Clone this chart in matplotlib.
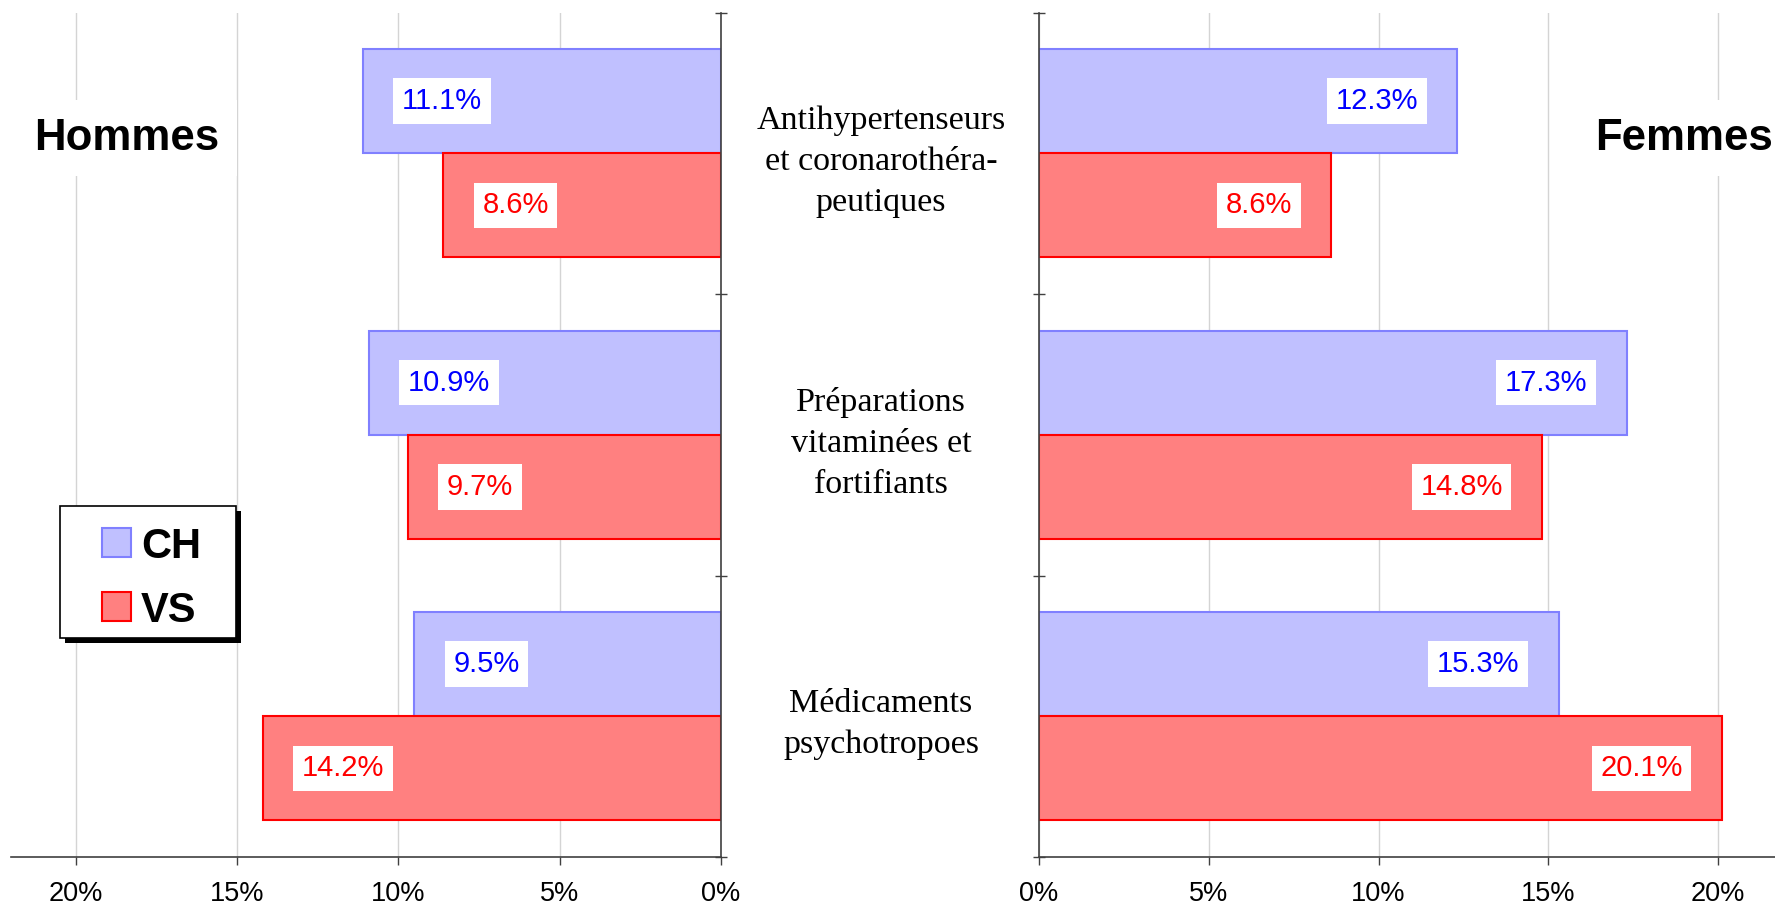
import numpy as np
import matplotlib
matplotlib.use('Agg')
import matplotlib.pyplot as plt
from matplotlib.ticker import FuncFormatter, FixedLocator
from matplotlib.patches import Rectangle

# ---- data ----
categories = ['Antihypertenseurs\net coronarothéra-\npeutiques',
              'Préparations\nvitaminées et\nfortifiants',
              'Médicaments\npsychotropoes']
hommes_ch = [11.1, 10.9, 9.5]
hommes_vs = [8.6, 9.7, 14.2]
femmes_ch = [12.3, 17.3, 15.3]
femmes_vs = [8.6, 14.8, 20.1]
xticks = [0, 5, 10, 15, 20]
series_names = ['CH', 'VS']

# ---- styles ----
ch_face, ch_edge, ch_text = '#C0C0FF', '#8080FF', '#0000FF'
vs_face, vs_edge, vs_text = '#FF8080', '#FF0000', '#FF0000'
grid_col = '#d4d4d4'
spine_col = '#404040'
sans = ['Liberation Sans', 'DejaVu Sans']
serif = ['Liberation Serif', 'DejaVu Serif']

W, H = 1775, 910
fig = plt.figure(figsize=(W / 100, H / 100), dpi=100)

def frac(x0, y0, x1, y1):
    # pixel box (top-left origin) -> figure fraction rect
    return [x0 / W, 1 - y1 / H, (x1 - x0) / W, (y1 - y0) / H]

ax_l = fig.add_axes(frac(11, 12.5, 721, 857))
ax_r = fig.add_axes(frac(1039, 12.5, 1039 + 22 * 33.96, 857))

y = np.arange(len(categories))
bh = 0.37
pct = FuncFormatter(lambda v, p: f'{v:.0f}%')

def setup(ax, side):
    ax.set_ylim(2.5, -0.5)
    ax.set_axisbelow(True)
    ax.xaxis.set_major_locator(FixedLocator(xticks))
    ax.xaxis.set_major_formatter(pct)
    ax.grid(axis='x', color=grid_col, lw=1)
    for s in ['top', 'left', 'right']:
        ax.spines[s].set_visible(False)
    keep = 'right' if side == 'left' else 'left'
    for s in ['bottom', keep]:
        ax.spines[s].set_visible(True)
        ax.spines[s].set_color(spine_col)
        ax.spines[s].set_linewidth(1.2)
    ax.tick_params(axis='x', direction='out', length=6, width=1, color=spine_col,
                   pad=11, labelsize=19.5)
    for lab in ax.get_xticklabels():
        lab.set_family(sans)
    ax.yaxis.set_minor_locator(FixedLocator([-0.5, 0.5, 1.5, 2.5]))
    ax.set_yticks([])
    ax.tick_params(axis='y', which='minor', direction='inout', length=9,
                   width=1, color=spine_col)
    if side == 'left':
        ax.yaxis.tick_right()
        ax.set_xlim(22, 0)
    else:
        ax.yaxis.tick_left()
        ax.set_xlim(0, 22)


setup(ax_l, 'left')
setup(ax_r, 'right')

ax_l.barh(y - bh / 2, hommes_ch, height=bh, color=ch_face, edgecolor=ch_edge, lw=1.5)
ax_l.barh(y + bh / 2, hommes_vs, height=bh, color=vs_face, edgecolor=vs_edge, lw=1.5)
ax_r.barh(y - bh / 2, femmes_ch, height=bh, color=ch_face, edgecolor=ch_edge, lw=1.5)
ax_r.barh(y + bh / 2, femmes_vs, height=bh, color=vs_face, edgecolor=vs_edge, lw=1.5)

# value labels: white boxes inside the bar ends
box = dict(boxstyle='square,pad=0.3', fc='white', ec='none')
def labels(ax, vals, off, col, ha):
    for yi, v in zip(y + off, vals):
        ax.annotate(f'{v:.1f}%', (v, yi), xytext=(28 if ha == 'left' else -28, 0),
                    textcoords='offset points', ha=ha, va='center', fontsize=21,
                    color=col, family=sans, bbox=box)

labels(ax_l, hommes_ch, -bh / 2, ch_text, 'left')
labels(ax_l, hommes_vs, bh / 2, vs_text, 'left')
labels(ax_r, femmes_ch, -bh / 2, ch_text, 'right')
labels(ax_r, femmes_vs, bh / 2, vs_text, 'right')

# category names between the two panels
for yi, name in zip(y, categories):
    ax_r.annotate(name, (881 / W, yi), xycoords=('figure fraction', 'data'),
                  xytext=(0, -6), textcoords='offset points',
                  ha='center', va='center', fontsize=24.5, family=serif,
                  linespacing=1.45, color='black')

# panel titles
tb = dict(boxstyle='square,pad=0.4', fc='white', ec='none')
fig.text(127 / W, 1 - 138 / H, 'Hommes', ha='center', va='center', fontsize=31.5,
         fontweight='bold', family=sans, bbox=tb)
fig.text(1684 / W, 1 - 138 / H, 'Femmes', ha='center', va='center', fontsize=31.5,
         fontweight='bold', family=sans, bbox=tb)

# legend box with hard black shadow (drawn by hand, in pixels)
def px(x0, y0, w, h, **kw):
    return Rectangle((x0 / W, 1 - (y0 + h) / H), w / W, h / H,
                     transform=fig.transFigure, **kw)

fig.patches.append(px(65, 511, 176, 132, fc='black', ec='none', zorder=5))
fig.patches.append(px(60, 506, 176, 132, fc='white', ec='black', lw=1.2, zorder=6))
for i, (name, fc, ec) in enumerate(zip(series_names, [ch_face, vs_face],
                                       [ch_edge, vs_edge])):
    yc = 542.5 + 64 * i
    fig.patches.append(px(102, yc - 14.5, 29, 29, fc=fc, ec=ec, lw=1.5, zorder=7))
    fig.text(141 / W, 1 - yc / H, name, ha='left', va='center_baseline',
             fontsize=30, fontweight='bold', family=sans, zorder=8)

fig.savefig('out.png', dpi=100)
